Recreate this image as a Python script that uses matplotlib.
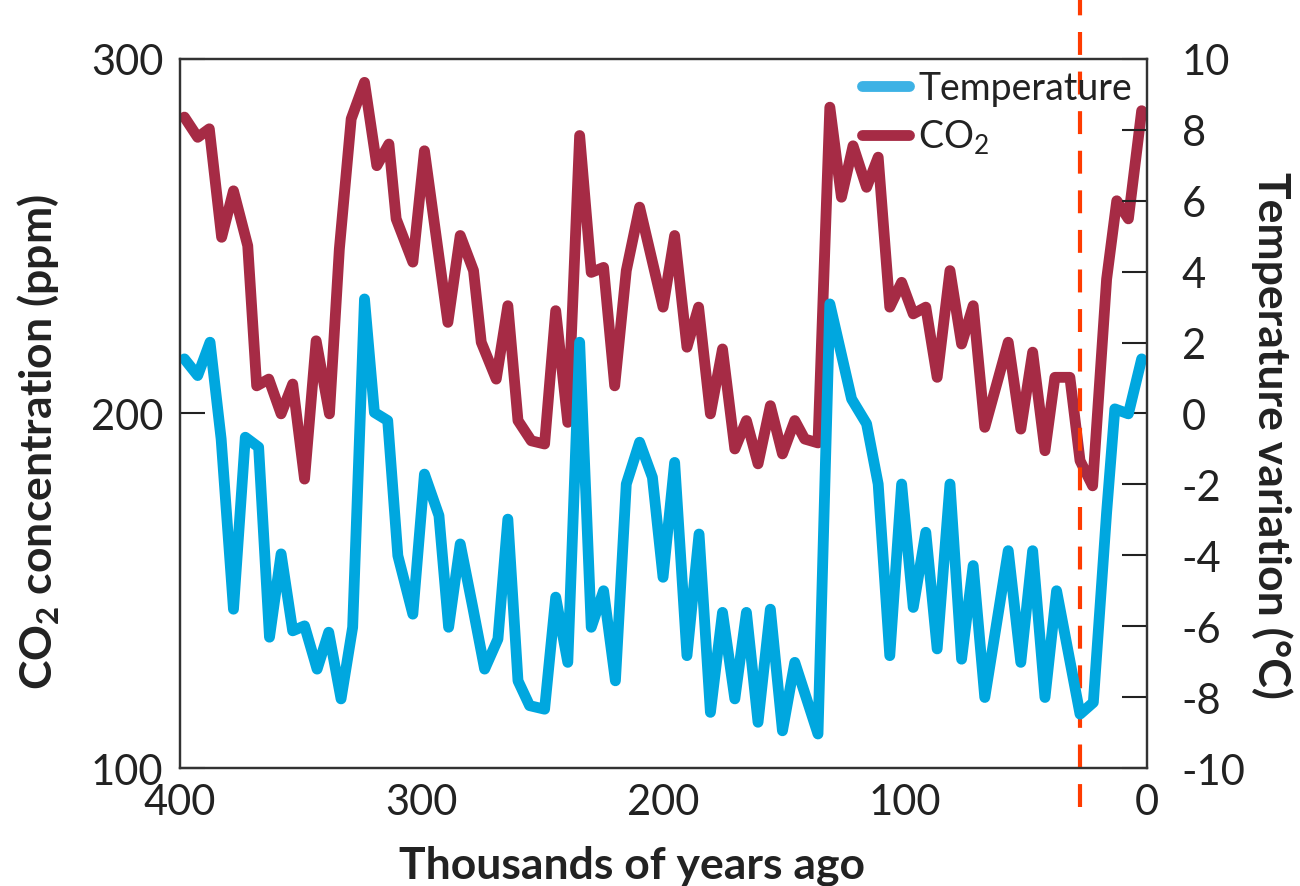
import matplotlib
matplotlib.use("Agg")
import matplotlib.pyplot as plt
from matplotlib.lines import Line2D

plt.rcParams['font.family'] = ['Lato', 'DejaVu Sans']
plt.rcParams['mathtext.fontset'] = 'custom'
plt.rcParams['mathtext.rm'] = 'Lato'
plt.rcParams['mathtext.bf'] = 'Lato:bold'
plt.rcParams['axes.unicode_minus'] = False

# Datos (miles de años atrás)
co2_age = [398.2, 392.7, 387.9, 382.8, 377.9, 372.0, 368.3, 363.3, 358.2, 353.4,
           348.5, 343.7, 338.2, 334.1, 329.2, 323.7, 318.6, 313.6, 310.6, 303.7,
           298.9, 289.2, 284.1, 278.6, 275.4, 269.2, 264.4, 260.2, 254.7, 249.2,
           244.6, 239.6, 234.7, 229.9, 224.8, 220.2, 215.4, 209.9, 200.2, 195.4,
           190.3, 185.5, 180.6, 175.6, 170.5, 165.7, 160.9, 155.8, 150.8, 145.7,
           141.6, 136.1, 131.2, 126.4, 121.6, 116.0, 111.2, 106.4, 101.5, 96.7,
           91.5, 86.8, 81.5, 76.7, 71.9, 67.1, 57.4, 52.2, 47.3, 42.2,
           38.1, 31.9, 27.7, 22.5, 16.7, 12.5, 7.7, 2.2]
co2_ppm = [283.6, 277.9, 280.3, 249.7, 262.8, 247.3, 207.8, 209.7, 199.9, 208.3,
           181.5, 220.5, 199.9, 246.4, 283.1, 293.4, 269.9, 276.0, 254.9, 242.7,
           274.1, 225.7, 250.2, 240.3, 220.1, 209.7, 230.4, 198.0, 192.3, 191.4,
           229.0, 197.5, 278.4, 239.8, 241.2, 207.8, 240.3, 258.2, 230.0, 250.2,
           218.7, 230.0, 199.9, 218.2, 190.0, 198.0, 185.8, 202.2, 188.6, 198.0,
           192.8, 191.7, 286.4, 261.0, 275.5, 263.8, 272.3, 230.0, 237.0, 228.1,
           230.0, 210.2, 240.3, 219.6, 230.4, 196.1, 220.1, 195.6, 217.3, 189.5,
           210.2, 210.2, 186.7, 179.6, 237.9, 260.0, 254.9, 285.4]

temp_age = [398.2, 392.7, 387.6, 383.0, 377.9, 373.0, 367.5, 363.0, 358.2, 353.4,
            348.5, 343.3, 338.5, 333.4, 328.6, 323.7, 319.6, 314.1, 309.9, 303.7,
            298.9, 292.9, 288.9, 284.1, 278.9, 274.0, 268.5, 264.4, 260.2, 255.4,
            249.2, 244.6, 239.6, 234.7, 229.9, 224.8, 219.9, 215.4, 209.9, 204.6,
            200.2, 195.4, 190.3, 185.3, 180.6, 175.6, 170.5, 165.7, 160.9, 155.8,
            150.8, 145.7, 136.1, 131.2, 122.2, 116.0, 111.2, 106.4, 101.5, 96.7,
            91.5, 86.8, 81.5, 76.7, 71.9, 67.1, 57.4, 52.2, 47.3, 42.2,
            37.4, 27.7, 22.2, 16.7, 13.3, 7.7, 2.2]
temp_var = [1.54, 1.07, 2.01, -0.72, -5.52, -0.67, -0.95, -6.31, -3.96, -6.13,
            -5.99, -7.21, -6.17, -8.05, -6.03, 3.23, 0.03, -0.20, -4.01, -5.66,
            -1.71, -2.88, -6.03, -3.68, -5.47, -7.21, -6.36, -2.98, -7.54, -8.24,
            -8.34, -5.18, -7.02, 2.01, -6.03, -5.00, -7.54, -1.99, -0.81, -1.80,
            -4.62, -1.38, -6.83, -3.40, -8.43, -5.61, -8.05, -5.61, -8.71, -5.52,
            -8.95, -7.02, -9.04, 3.09, 0.41, -0.29, -1.99, -6.83, -1.99, -5.47,
            -3.35, -6.64, -1.99, -6.93, -4.29, -8.01, -3.87, -7.02, -3.87, -8.01,
            -5.00, -8.48, -8.15, -2.79, 0.13, -0.01, 1.54]

marker_age = 27.7  # línea discontinua roja

co2_color = '#A62B45'
temp_color = '#00A7DF'
spine_color = '#333333'
text_color = '#222222'

fig = plt.figure(figsize=(13, 8.87), dpi=100)
ax = fig.add_axes([0.1385, 0.133, 0.7438, 0.7994])
ax2 = ax.twinx()

ax.plot(co2_age, co2_ppm, color=co2_color, lw=7.8,
        solid_joinstyle='round', solid_capstyle='round')
ax2.plot(temp_age, temp_var, color=temp_color, lw=7.8,
         solid_joinstyle='round', solid_capstyle='round')

ax.set_xlim(400, 0)
ax.set_ylim(100, 300)
ax2.set_ylim(-10, 10)
ax.set_xticks([400, 300, 200, 100, 0])
ax.set_yticks([100, 200, 300])
ax2.set_yticks(range(-10, 11, 2))

ax.tick_params(axis='x', length=0, pad=11, labelsize=30, colors=text_color)
ax.tick_params(axis='y', direction='in', length=18, width=1.5, pad=12,
               labelsize=30, colors=text_color)
ax2.tick_params(axis='y', direction='in', length=18, width=1.5, pad=25,
                labelsize=30, colors=text_color)
for a in (ax, ax2):
    for s in a.spines.values():
        s.set_color(spine_color)
        s.set_linewidth(1.6)

# línea discontinua que sale del marco
ax.axvline(marker_age, ymin=-0.055, ymax=1.09, color='#FF3B00', lw=3,
           dashes=(5.5, 4), clip_on=False, zorder=5)

ax.set_xlabel('Thousands of years ago', fontsize=32, fontweight='bold', color=text_color)
ax.xaxis.set_label_coords(0.467, -0.108)
ax.set_ylabel(r'CO$_\mathregular{2}$ concentration (ppm)', fontsize=32,
              fontweight='bold', color=text_color)
ax.yaxis.set_label_coords(-0.122, 0.461)
ax2.set_ylabel('Temperature variation (°C)', fontsize=32, fontweight='bold',
               color=text_color, rotation=270, va='center')
ax2.yaxis.set_label_coords(1.129, 0.471)

handles = [Line2D([], [], color='#3DB2E5', lw=7.8, solid_capstyle='round'),
           Line2D([], [], color=co2_color, lw=7.8, solid_capstyle='round')]
ax2.legend(handles, ['Temperature', r'CO$_\mathregular{2}$'], loc='upper right',
           bbox_to_anchor=(1.0, 1.005), frameon=False, fontsize=27,
           handlelength=1.25, handletextpad=0.25, labelspacing=0.3,
           borderaxespad=0.0, labelcolor=text_color)

fig.savefig('out.png', dpi=100)
